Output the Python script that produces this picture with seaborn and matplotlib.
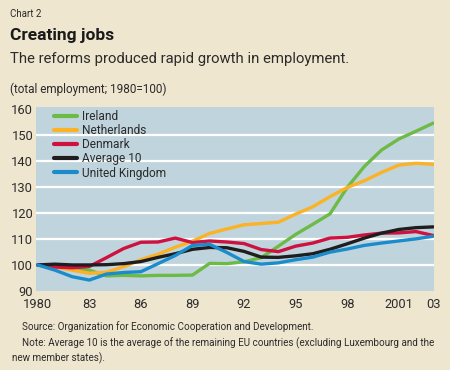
import matplotlib
matplotlib.use('Agg')
import matplotlib.pyplot as plt
import pandas as pd
import seaborn as sns

years = list(range(1980, 2004))
ireland = [100, 99.4, 98.8, 98.0, 95.8, 96.0, 95.8, 96.0, 96.0, 96.1, 100.6, 100.5,
           101.2, 102.8, 107.2, 111.7, 115.6, 119.6, 129.7, 137.8, 144.1, 148.3, 151.3, 154.4]
netherlands = [100, 99.2, 98.0, 96.8, 97.2, 99.3, 102.0, 104.1, 106.8, 109.1, 112.1, 113.8,
               115.4, 115.9, 116.4, 119.5, 122.3, 126.2, 129.7, 132.3, 135.5, 138.3, 139.0, 138.6]
denmark = [100, 99.2, 98.9, 99.4, 102.8, 106.3, 108.7, 108.8, 110.3, 108.6, 109.2, 108.8,
           108.2, 105.9, 105.1, 107.2, 108.4, 110.3, 110.6, 111.5, 112.2, 112.3, 112.8, 111.3]
average10 = [100, 100.3, 100.0, 100.0, 100.1, 100.5, 101.3, 102.9, 104.3, 106.0, 106.7, 106.6,
             105.2, 103.0, 102.9, 103.5, 104.3, 106.0, 108.1, 110.3, 112.2, 113.6, 114.3, 114.6]
uk = [100, 98.0, 95.5, 94.2, 96.5, 97.1, 97.4, 100.5, 103.6, 107.5, 107.9, 104.8,
      101.3, 100.3, 100.8, 102.0, 103.0, 104.9, 106.1, 107.5, 108.4, 109.2, 110.0, 111.0]

series_names = ['Ireland', 'Netherlands', 'Denmark', 'Average 10', 'United Kingdom']
series_colors = ['#6dbb46', '#fbb224', '#cf1140', '#1f1d1e', '#1b8ccb']
tick_years = [1980, 1983, 1986, 1989, 1992, 1995, 1998, 2001, 2003]
tick_labels = ['1980', '83', '86', '89', '92', '95', '98', '2001', '03']
y_ticks = [90, 100, 110, 120, 130, 140, 150, 160]

bg = '#efe6cf'
panel = '#c0d4dd'
txt = '#2b2b2b'

df = pd.DataFrame({'year': years, 'Ireland': ireland, 'Netherlands': netherlands,
                   'Denmark': denmark, 'Average 10': average10, 'United Kingdom': uk})
long = df.melt(id_vars='year', var_name='country', value_name='value')

sns.set_style('white')
plt.rcParams['font.family'] = ['Roboto', 'DejaVu Sans']

W, H = 450, 370
fig = plt.figure(figsize=(4.5, 3.7), dpi=100, facecolor=bg)
ax = fig.add_axes([36 / W, 1 - 291 / H, (434 - 36) / W, (291 - 107) / H])
ax.set_facecolor(panel)

# white horizontal gridlines
for v in [100, 110, 120, 130, 140, 150]:
    ax.axhline(v, color='white', lw=1.6, zorder=1)

sns.lineplot(data=long, x='year', y='value', hue='country', hue_order=series_names,
             palette=series_colors, lw=2.4, ax=ax, zorder=3)

ax.set_xlim(1979.9, 2003.05)
ax.set_ylim(90, 160.6)
ax.set_xticks(years, minor=True)
ax.set_xticks(tick_years)
ax.set_xticklabels(tick_labels)
ax.set_yticks(y_ticks)
ax.set_yticklabels([str(v) for v in y_ticks])
ax.tick_params(axis='x', which='both', direction='in', length=4, width=0.9,
               color='#333333', labelsize=9.3, labelcolor=txt, pad=5)
ax.tick_params(axis='y', length=0, labelsize=9.3, labelcolor=txt, pad=2)
ax.set_xlabel('')
ax.set_ylabel('')
for s in ax.spines.values():
    s.set_visible(False)

leg = ax.legend(loc='upper left', bbox_to_anchor=(0.045, 0.985), frameon=False,
                fontsize=8.6, handlelength=1.95, handletextpad=0.4, labelspacing=0.1,
                borderaxespad=0, borderpad=0)
for t in leg.get_texts():
    t.set_color(txt)
for h in leg.get_lines():
    h.set_linewidth(3)

fig.text(10 / W, 1 - 17 / H, 'Chart 2', fontsize=7, color=txt, va='baseline')
fig.text(10 / W, 1 - 40 / H, 'Creating jobs', fontsize=12.5, fontweight='bold', color='#1a1a1a', va='baseline')
fig.text(10 / W, 1 - 63 / H, 'The reforms produced rapid growth in employment.', fontsize=10.7,
         color=txt, va='baseline')
fig.text(10 / W, 1 - 93 / H, '(total employment; 1980=100)', fontsize=8.5, color=txt, va='baseline')
fig.text(22 / W, 1 - 330 / H, 'Source: Organization for Economic Cooperation and Development.',
         fontsize=7.15, color=txt, va='baseline')
fig.text(22 / W, 1 - 346 / H, 'Note: Average 10 is the average of the remaining EU countries (excluding Luxembourg and the',
         fontsize=7.15, color=txt, va='baseline')
fig.text(12 / W, 1 - 361 / H, 'new member states).', fontsize=7.15, color=txt, va='baseline')

fig.savefig('out.png', dpi=100, facecolor=bg)
